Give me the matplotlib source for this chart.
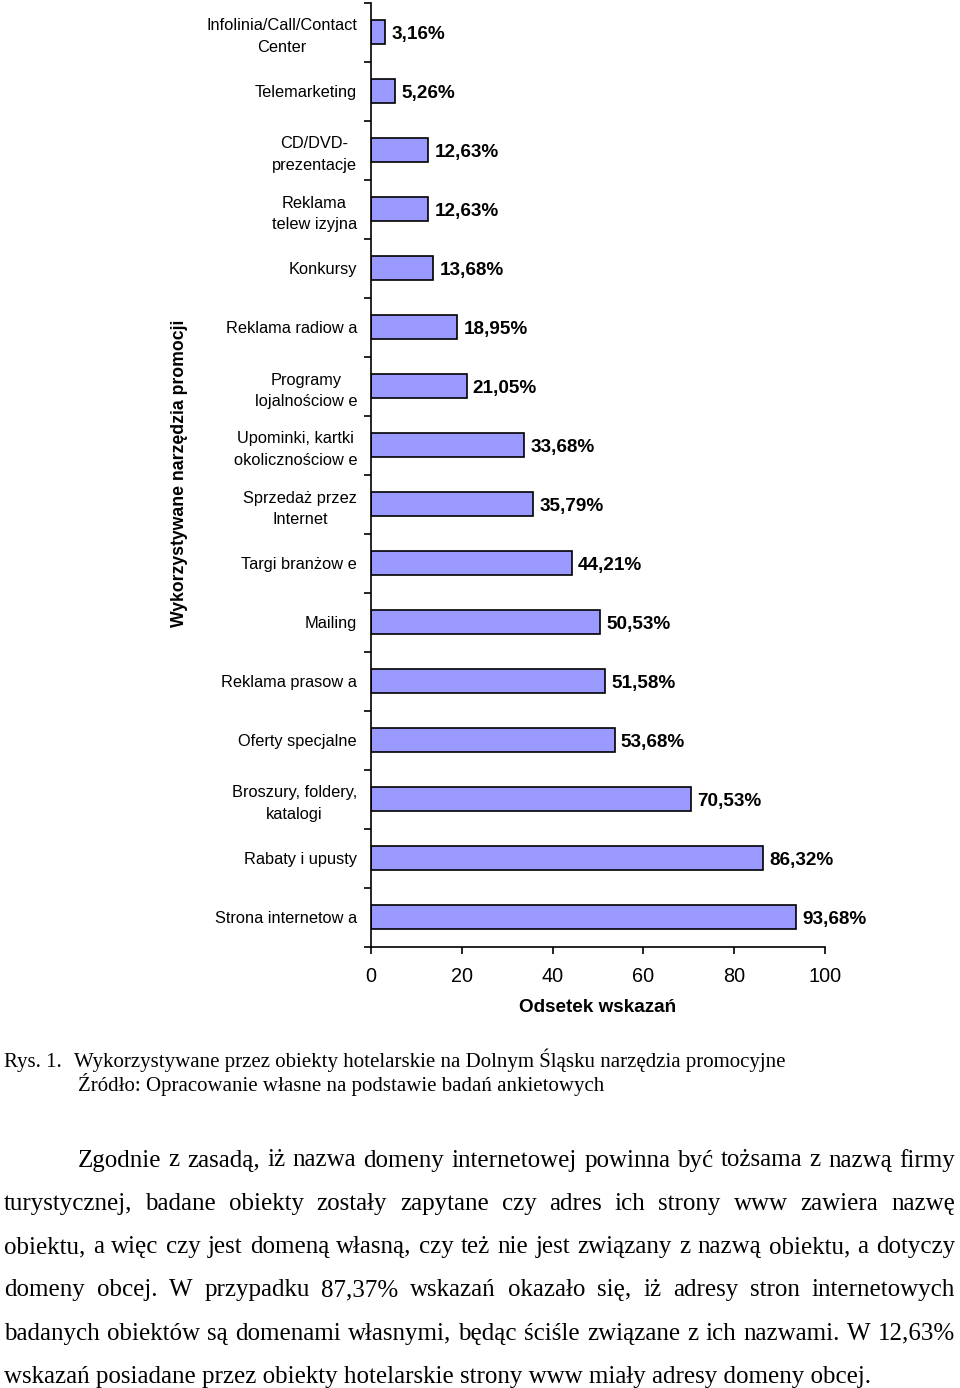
import matplotlib
matplotlib.use("Agg")
import matplotlib.pyplot as plt
import numpy as np

categories = [
    "Infolinia/Call/Contact\nCenter",
    "Telemarketing",
    "CD/DVD-\nprezentacje",
    "Reklama\ntelew izyjna",
    "Konkursy",
    "Reklama radiow a",
    "Programy\nlojalnościow e",
    "Upominki, kartki\nokolicznościow e",
    "Sprzedaż przez\nInternet",
    "Targi branżow e",
    "Mailing",
    "Reklama prasow a",
    "Oferty specjalne",
    "Broszury, foldery,\nkatalogi",
    "Rabaty i upusty",
    "Strona internetow a",
]
values = [3.16, 5.26, 12.63, 12.63, 13.68, 18.95, 21.05, 33.68, 35.79,
          44.21, 50.53, 51.58, 53.68, 70.53, 86.32, 93.68]
value_labels = ["3,16%", "5,26%", "12,63%", "12,63%", "13,68%", "18,95%", "21,05%",
                "33,68%", "35,79%", "44,21%", "50,53%", "51,58%", "53,68%",
                "70,53%", "86,32%", "93,68%"]
x_ticks = [0, 20, 40, 60, 80, 100]
x_label = "Odsetek wskazań"
y_label = "Wykorzystywane narzędzia promocji"
caption1 = "Rys. 1."
caption1b = "Wykorzystywane przez obiekty hotelarskie na Dolnym Śląsku narzędzia promocyjne"
caption2 = "Źródło: Opracowanie własne na podstawie badań ankietowych"
paragraph = [
    "Zgodnie z zasadą, iż nazwa domeny internetowej powinna być tożsama z nazwą firmy",
    "turystycznej, badane obiekty zostały zapytane czy adres ich strony www zawiera nazwę",
    "obiektu, a więc czy jest domeną własną, czy też nie jest związany z nazwą obiektu, a dotyczy",
    "domeny obcej. W przypadku 87,37% wskazań okazało się, iż adresy stron internetowych",
    "badanych obiektów są domenami własnymi, będąc ściśle związane z ich nazwami. W 12,63%",
    "wskazań posiadane przez obiekty hotelarskie strony www miały adresy domeny obcej.",
]

W, H = 960, 1388
fig = plt.figure(figsize=(W / 100, H / 100), dpi=100)
ax = fig.add_axes([371 / W, 1 - 946.5 / H, 454 / W, 944 / H])

sans = "Liberation Sans"
serif = "Liberation Serif"

n = len(categories)
ypos = np.arange(n)
ax.barh(ypos, values, height=0.41, color="#9999FF", edgecolor="black", linewidth=1.2)
ax.set_ylim(n - 0.5, -0.5)
ax.set_xlim(0, 100)
for y, v, lab in zip(ypos, values, value_labels):
    ax.annotate(lab, (v, y), xytext=(4.5, -1.5), textcoords="offset points",
                va="center", ha="left", fontsize=13.6, fontweight="bold",
                family=sans)

ax.set_yticks(ypos)
ax.set_yticklabels(categories, family=sans, fontsize=11.8, ha="right",
                   multialignment="center", linespacing=1.55)
ax.tick_params(axis="y", length=0, pad=10)
ax.set_yticks(np.arange(-0.5, n, 1.0), minor=True)
ax.tick_params(axis="y", which="minor", length=5, width=1.2, direction="out")

ax.set_xticks(x_ticks)
ax.set_xticklabels([str(t) for t in x_ticks], family=sans, fontsize=14.3)
ax.tick_params(axis="x", length=5, width=1.2, direction="out", pad=9.5)

for s in ["top", "right"]:
    ax.spines[s].set_visible(False)
for s in ["left", "bottom"]:
    ax.spines[s].set_linewidth(1.2)

fig.text(598 / W, 1 - 1008 / H, x_label, ha="center", va="center",
         family=sans, fontsize=13.6, fontweight="bold")
fig.text(180 / W, 1 - 473 / H, y_label, ha="center", va="center", rotation=90,
         family=sans, fontsize=12.7, fontweight="bold")

renderer = fig.canvas.get_renderer()


def width_px(s, size, family=serif):
    t = fig.text(0, 0, s, fontsize=size, family=family)
    w = t.get_window_extent(renderer).width
    t.remove()
    return w


def fit_size(s, target, family=serif):
    base = 14.0
    return base * target / width_px(s, base, family)


cap_size = fit_size(caption2, 527)
fig.text(4 / W, 1 - 1067 / H, caption1, ha="left", va="baseline",
         family=serif, fontsize=cap_size)
fig.text(74 / W, 1 - 1067 / H, caption1b, ha="left", va="baseline",
         family=serif, fontsize=cap_size)
fig.text(78 / W, 1 - 1091 / H, caption2, ha="left", va="baseline",
         family=serif, fontsize=cap_size)

p_size = fit_size(paragraph[-1], 872)
right_edge = 955
for i, line in enumerate(paragraph):
    base_y = 1 - (1166.5 + i * 43.3) / H
    x0 = 78 if i == 0 else 4
    words = line.split(" ")
    if i == len(paragraph) - 1:
        fig.text(x0 / W, base_y, line, ha="left", va="baseline",
                 family=serif, fontsize=p_size)
        continue
    widths = [width_px(w, p_size) for w in words]
    gap = (right_edge - x0 - sum(widths)) / (len(words) - 1)
    x = x0
    for w, wd in zip(words, widths):
        fig.text(x / W, base_y, w, ha="left", va="baseline",
                 family=serif, fontsize=p_size)
        x += wd + gap

fig.savefig("out.png", dpi=100)
